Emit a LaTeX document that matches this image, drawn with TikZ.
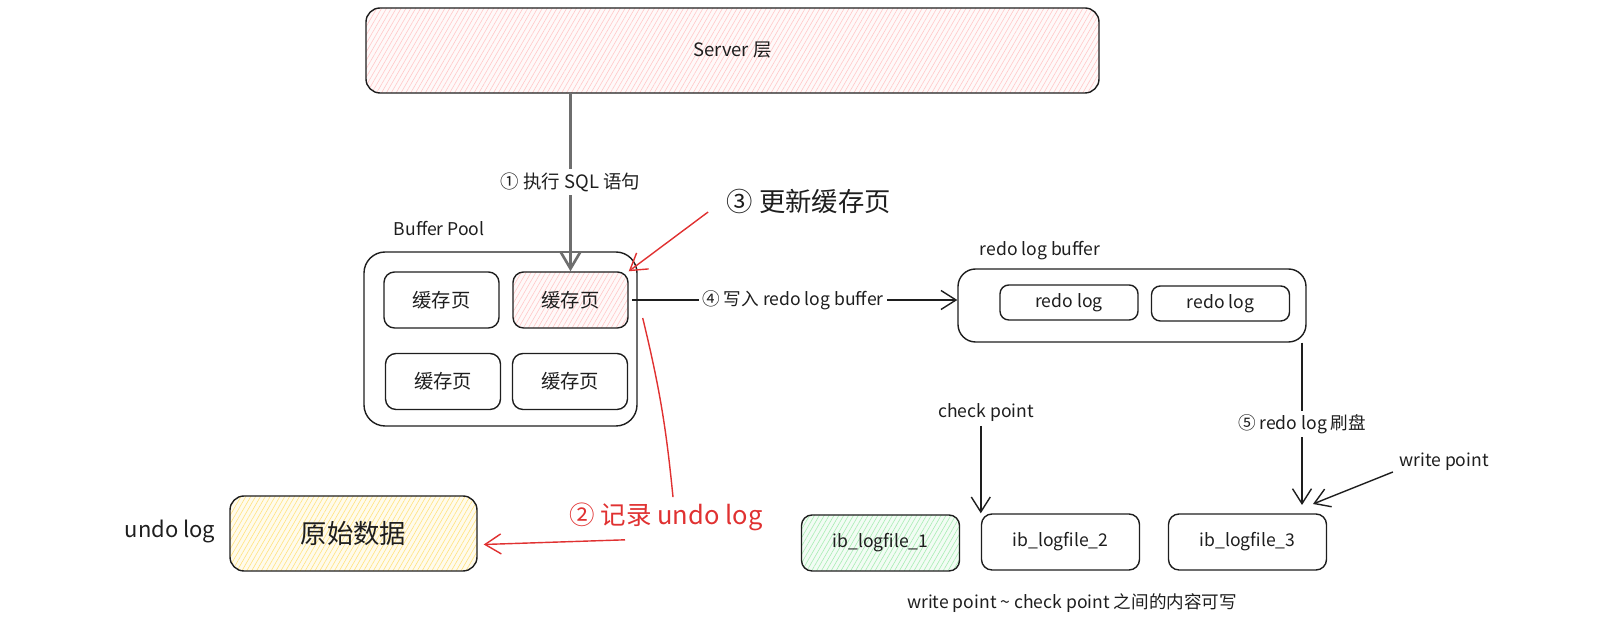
\documentclass[tikz,border=0pt]{standalone}
\usepackage{fontspec}
\setmainfont{Noto Sans CJK SC}
\usepackage{xcolor}
\definecolor{cInk}{HTML}{1E1E1E}
\definecolor{cRed}{HTML}{E03131}
\definecolor{cGray}{HTML}{6E6E6E}
\definecolor{cPink}{HTML}{FFC9C9}
\definecolor{cYellow}{HTML}{FFE380}
\definecolor{cGreen}{HTML}{A9EDB4}
\usetikzlibrary{positioning,arrows.meta,calc,patterns.meta}
\tikzset{
  box-big/.style={draw=cInk,line width=0.8pt,rounded corners=8pt,align=center,
    text=cInk,font=\fontsize{10.5}{12}\selectfont},
  box-page/.style={draw=cInk,line width=0.8pt,rounded corners=6pt,
    minimum width=23mm,minimum height=11.2mm,text=cInk,font=\fontsize{11}{13}\selectfont},
  box-log/.style={draw=cInk,line width=0.8pt,rounded corners=5pt,
    minimum width=27.6mm,minimum height=7mm,text=cInk,font=\fontsize{10}{12}\selectfont},
  box-file/.style={draw=cInk,line width=0.8pt,rounded corners=6pt,
    minimum width=31.6mm,minimum height=11.2mm,text=cInk,font=\fontsize{10}{12}\selectfont},
  % 斜线填充：红 (被修改) / 黄 (undo) / 绿 (已写满)
  hatch-red/.style={preaction={fill=cPink!12},
    pattern={Lines[angle=60,distance=2.4pt,line width=0.35pt]},pattern color=cPink},
  hatch-yellow/.style={preaction={fill=cYellow!15},
    pattern={Lines[angle=60,distance=2.4pt,line width=0.35pt]},pattern color=cYellow},
  hatch-green/.style={preaction={fill=cGreen!15},
    pattern={Lines[angle=60,distance=2.4pt,line width=0.35pt]},pattern color=cGreen},
  lbl/.style={text=cInk,font=\fontsize{10}{12}\selectfont,inner sep=2pt},
  lbl-big/.style={text=cInk,font=\fontsize{15}{18}\selectfont,inner sep=2pt},
  arrow/.style={-{Straight Barb[length=3mm,width=3.8mm]},line width=0.8pt,draw=cInk},
  arrow-gray/.style={-{Straight Barb[length=3.4mm,width=4mm]},line width=1.5pt,draw=cGray},
  arrow-red/.style={-{Straight Barb[length=3.2mm,width=4mm]},line width=0.8pt,draw=cRed},
}

\begin{document}
\begin{tikzpicture}
  \useasboundingbox (0,0) rectangle (32.12,12.88);
  % Server 层
  \node[box-big,hatch-red,minimum width=146.6mm,minimum height=17mm] (server) at (14.65,11.87) {Server 层};

  % Buffer Pool
  \node[box-big,rounded corners=12pt,minimum width=54.6mm,minimum height=34.8mm] (bp) at (10.01,6.10) {};
  \node[lbl,anchor=west] (bp-lbl) at (7.80,8.30) {Buffer Pool};
  \node[box-page] (pg-tl) at (8.83,6.88) {缓存页};
  \node[box-page,hatch-red] (pg-tr) at (11.41,6.88) {缓存页};
  \node[box-page] (pg-bl) at (8.86,5.25) {缓存页};
  \node[box-page] (pg-br) at (11.40,5.25) {缓存页};

  \draw[arrow-gray] (server.south -| pg-tr.north) -- (pg-tr.north)
    node[midway,lbl,fill=white,font=\fontsize{10.5}{12}\selectfont] {① 执行 SQL 语句};

  \node[lbl-big] (lbl-upd) at (16.18,8.86) {③ 更新缓存页};
  \draw[arrow-red] ($(lbl-upd.west)+(-0.3,-0.22)$) -- (pg-tr.north east);

  % redo log buffer
  \node[box-big,rounded corners=10pt,minimum width=69.6mm,minimum height=14.6mm] (rlb) at (22.64,6.77) {};
  \node[lbl] (rlb-lbl) at (20.80,7.86) {redo log buffer};
  \node[box-log] (log-a) at (21.38,6.83) {redo log};
  \node[box-log] (log-b) at (24.41,6.81) {redo log};

  \draw[arrow,shorten <=2pt] (pg-tr.east) -- (pg-tr.east -| rlb.west)
    node[midway,lbl,fill=white] {④ 写入 redo log buffer};

  % undo log
  \node[box-big,hatch-yellow,minimum width=49.4mm,minimum height=15mm,font=\fontsize{15}{18}\selectfont] (raw) at (7.07,2.21) {原始数据};
  \node[lbl-big,font=\fontsize{12.5}{15}\selectfont] (undo-lbl) at (3.40,2.24) {undo log};
  \node[lbl-big,text=cRed,font=\fontsize{14.5}{17}\selectfont] (lbl-undo) at (13.32,2.54) {② 记录 undo log};
  \draw[cRed,line width=0.8pt] ($(bp.east)+(0.1,0.42)$) to[bend left=4] ($(lbl-undo.north)+(0.14,0.04)$);
  \draw[arrow-red] ($(lbl-undo.south)+(-0.82,-0.1)$) -- ($(raw.east)+(0.12,-0.22)$);

  % redo log 文件
  \node[box-file,hatch-green] (ib-1) at (17.61,2.02) {ib\_logfile\_1};
  \node[box-file] (ib-2) at (21.21,2.04) {ib\_logfile\_2};
  \node[box-file] (ib-3) at (24.95,2.04) {ib\_logfile\_3};

  \draw[arrow] (rlb.south -| 26.04,0) -- (26.04,2.78)
    node[midway,lbl,fill=white] {⑤ redo log 刷盘};

  \node[lbl] (cp-lbl) at (19.72,4.62) {check point};
  \draw[arrow] (cp-lbl.south -| ib-2.north west) -- (ib-2.north west);

  \node[lbl] (wp-lbl) at (28.88,3.64) {write point};
  \draw[arrow] ($(wp-lbl.west)+(-0.05,-0.2)$) -- (26.26,2.80);

  \node[lbl] (note) at (21.44,0.82) {write point \textasciitilde{} check point 之间的内容可写};
\end{tikzpicture}
\end{document}
